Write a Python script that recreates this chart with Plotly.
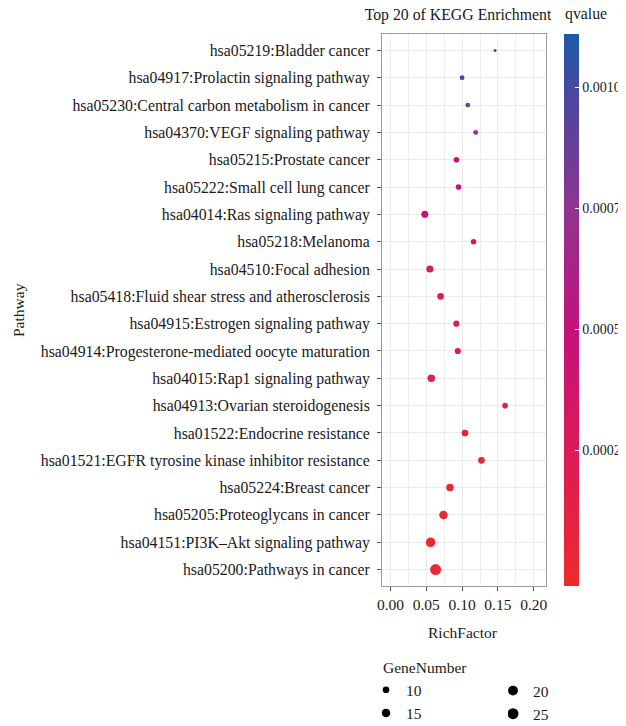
import plotly.graph_objects as go
import numpy as np

# ---- data (top to bottom as shown) ----
pathways = [
    "hsa05219:Bladder cancer",
    "hsa04917:Prolactin signaling pathway",
    "hsa05230:Central carbon metabolism in cancer",
    "hsa04370:VEGF signaling pathway",
    "hsa05215:Prostate cancer",
    "hsa05222:Small cell lung cancer",
    "hsa04014:Ras signaling pathway",
    "hsa05218:Melanoma",
    "hsa04510:Focal adhesion",
    "hsa05418:Fluid shear stress and atherosclerosis",
    "hsa04915:Estrogen signaling pathway",
    "hsa04914:Progesterone-mediated oocyte maturation",
    "hsa04015:Rap1 signaling pathway",
    "hsa04913:Ovarian steroidogenesis",
    "hsa01522:Endocrine resistance",
    "hsa01521:EGFR tyrosine kinase inhibitor resistance",
    "hsa05224:Breast cancer",
    "hsa05205:Proteoglycans in cancer",
    "hsa04151:PI3K\u2013Akt signaling pathway",
    "hsa05200:Pathways in cancer",
]
rich_factor = [0.146, 0.100, 0.108, 0.119, 0.092, 0.095, 0.048, 0.116, 0.055, 0.070,
               0.092, 0.094, 0.057, 0.160, 0.104, 0.127, 0.083, 0.074, 0.056, 0.063]
gene_number = [6, 7, 7, 7, 8, 8, 11, 8, 11, 10,
               9, 9, 12, 8, 10, 10, 12, 15, 19, 25]
qvalue = [0.00110, 0.00100, 0.00088, 0.00070, 0.00050, 0.00049, 0.00045, 0.00030, 0.00025, 0.00022,
          0.00024, 0.00023, 0.00015, 0.00012, 0.00010, 0.00008, 0.00005, 0.00003, 0.00001, 0.000002]

x_ticks = [0.00, 0.05, 0.10, 0.15, 0.20]
x_tick_labels = ["0.00", "0.05", "0.10", "0.15", "0.20"]
q_ticks = [0.00025, 0.00050, 0.00075, 0.00100]
q_tick_labels = ["0.00025", "0.00050", "0.00075", "0.00100"]
size_breaks = [10, 15, 20, 25]

FONT = "Liberation Serif"
TXT = "#1a1a1a"

# figure is drawn inside the page's 8px body margin
OFF = 8
W, H = 626 - OFF, 726 - OFF


def fx(p):  # screen px -> figure px (x)
    return p - OFF


def fy(p):  # screen px -> figure px (y)
    return p - OFF


P_L, P_R, P_T, P_B = fx(382), fx(546), fy(34), fy(586)
PW, PH = P_R - P_L, P_B - P_T

g_min, g_max = 6, 25


def dot_size(n):
    return 3 + 8 * np.sqrt((n - g_min) / (g_max - g_min))


def px_x(p):  # screen px -> paper x
    return (fx(p) - P_L) / PW


def px_y(p):  # screen px -> paper y
    return (P_B - fy(p)) / PH


colorscale = [
    [0.00, "#EE2A2C"],
    [0.25, "#DB1A58"],
    [0.46, "#C3127A"],
    [0.68, "#90338F"],
    [0.90, "#4449A0"],
    [1.00, "#1C5AA8"],
]

fig = go.Figure()
fig.add_trace(go.Scatter(
    x=rich_factor, y=pathways, mode="markers", showlegend=False,
    marker=dict(
        size=[dot_size(n) for n in gene_number],
        color=qvalue, colorscale=colorscale, cmin=-0.00003, cmax=0.00111,
        line=dict(width=0), opacity=1,
        showscale=True,
        colorbar=dict(
            xref="container", x=fx(563.5) / W, xanchor="left", xpad=0,
            yref="paper", y=0.5, yanchor="middle", len=1, lenmode="fraction", ypad=0,
            thickness=15, outlinewidth=0,
            tickvals=q_ticks, ticktext=q_tick_labels,
            ticks="inside", ticklen=4, tickcolor="white", tickwidth=1,
            tickfont=dict(family=FONT, size=14, color=TXT),
        ),
    ),
))

for i, n in enumerate(size_breaks):
    fig.add_trace(go.Scatter(
        x=[None], y=[None], mode="markers", name=str(n),
        marker=dict(size=dot_size(n), color="black"),
        legend="legend" if i < 2 else "legend2", legendgroup=str(n),
    ))

fig.update_layout(
    width=W, height=H,
    margin=dict(l=P_L, r=W - P_R, t=P_T, b=H - P_B, autoexpand=False),
    paper_bgcolor="white", plot_bgcolor="white",
    font=dict(family=FONT, size=15.5, color=TXT),
    title=dict(text="Top 20 of KEGG Enrichment", x=fx(458) / W, xanchor="center",
               y=1 - fy(14) / H, yanchor="middle", font=dict(family=FONT, size=15.8, color=TXT)),
    xaxis=dict(
        range=[-0.0118, 0.2171], tickvals=x_ticks, ticktext=x_tick_labels,
        showgrid=True, gridcolor="#EBEBEB", gridwidth=1,
        minor=dict(dtick=0.025, tick0=0, showgrid=True, gridcolor="#EFEFEF", gridwidth=1),
        ticks="outside", ticklen=4, tickcolor="#555555",
        showline=True, linecolor="#9A9A9A", mirror=True, zeroline=False,
        tickfont=dict(family=FONT, size=15.5, color=TXT), automargin=False,
    ),
    yaxis=dict(
        type="category", categoryorder="array", categoryarray=list(reversed(pathways)),
        range=[-0.6, 19.6],
        showgrid=True, gridcolor="#EBEBEB", gridwidth=1,
        ticks="outside", ticklen=4, tickcolor="#555555",
        showline=True, linecolor="#9A9A9A", mirror=True, zeroline=False,
        tickfont=dict(family=FONT, size=15.8, color=TXT), automargin=False,
        ticklabelstandoff=4,
    ),
    legend=dict(
        xref="container", yref="container", x=fx(381) / W, y=1 - fy(653) / H,
        xanchor="left", yanchor="top",
        title=dict(text="GeneNumber", side="top", font=dict(family=FONT, size=15.5, color=TXT)),
        font=dict(family=FONT, size=15.5, color=TXT), bgcolor="rgba(0,0,0,0)",
        tracegroupgap=0, indentation=-15, itemsizing="trace",
    ),
    legend2=dict(
        xref="container", yref="container", x=fx(508) / W, y=1 - fy(674) / H,
        xanchor="left", yanchor="top",
        font=dict(family=FONT, size=15.5, color=TXT), bgcolor="rgba(0,0,0,0)",
        tracegroupgap=0, indentation=-15, itemsizing="trace",
    ),
    annotations=[
        dict(text="qvalue", xref="paper", yref="paper", x=px_x(563), y=px_y(14),
             xanchor="left", yanchor="middle", showarrow=False,
             font=dict(family=FONT, size=15.8, color=TXT)),
        dict(text="Pathway", xref="paper", yref="paper", x=px_x(18), y=0.5,
             xanchor="center", yanchor="middle", textangle=-90, showarrow=False,
             font=dict(family=FONT, size=15.5, color=TXT)),
        dict(text="RichFactor", xref="paper", yref="paper", x=px_x(463), y=px_y(632),
             xanchor="center", yanchor="middle", showarrow=False,
             font=dict(family=FONT, size=15.5, color=TXT)),
    ],
)

fig.write_html("out.html")
